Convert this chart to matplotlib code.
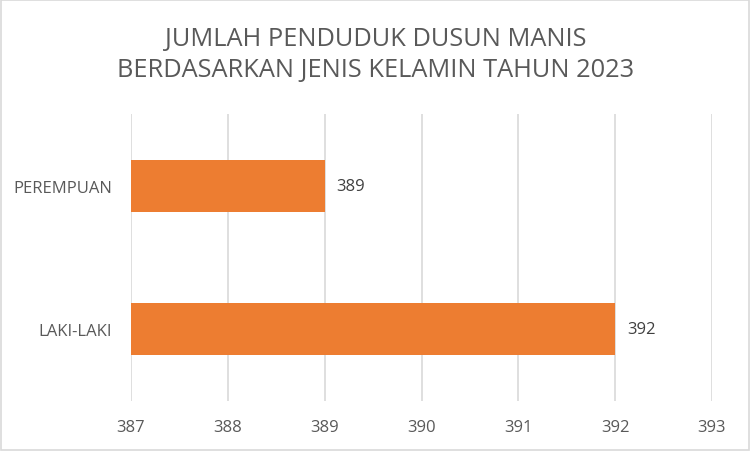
import matplotlib
matplotlib.use("Agg")
import matplotlib.pyplot as plt
from matplotlib.patches import Rectangle

# data
categories = ["LAKI-LAKI", "PEREMPUAN"]
values = [392, 389]
x_ticks = [387, 388, 389, 390, 391, 392, 393]
title = "JUMLAH PENDUDUK DUSUN MANIS\nBERDASARKAN JENIS KELAMIN TAHUN 2023"

text_color = "#595959"
bar_color = "#ED7D31"
grid_color = "#D9D9D9"

plt.rcParams["font.family"] = ["Open Sans", "DejaVu Sans"]

fig = plt.figure(figsize=(7.51, 4.52), dpi=100)
ax = fig.add_axes([131 / 751, 50 / 452, 581 / 751, 287 / 452])

base = x_ticks[0]
ax.barh(range(len(categories)), [v - base for v in values], left=base,
        height=0.36, color=bar_color, zorder=3)
for i, v in enumerate(values):
    ax.text(v + 0.12, i, str(v), va="center", ha="left",
            fontsize=12, color="#404040")

ax.set_xlim(x_ticks[0], x_ticks[-1])
ax.set_ylim(-0.5, len(categories) - 0.5)
ax.set_xticks(x_ticks)
ax.set_xticklabels([str(t) for t in x_ticks])
ax.set_yticks(range(len(categories)))
ax.set_yticklabels(categories)
ax.tick_params(axis="x", length=0, pad=13, labelsize=12, labelcolor=text_color)
ax.tick_params(axis="y", length=0, pad=13.5, labelsize=12, labelcolor=text_color)
ax.grid(axis="x", color=grid_color, linewidth=1.2, zorder=0)
for s in ax.spines.values():
    s.set_visible(False)

fig.text(0.5, 0.94, title, ha="center", va="top", fontsize=18.3,
         color=text_color, linespacing=1.3)

fig.patches.append(Rectangle((0.001, 0.002), 0.997, 0.995, transform=fig.transFigure,
                             fill=False, edgecolor="#D9D9D9", linewidth=1.2))

fig.savefig("out.png", dpi=100)
